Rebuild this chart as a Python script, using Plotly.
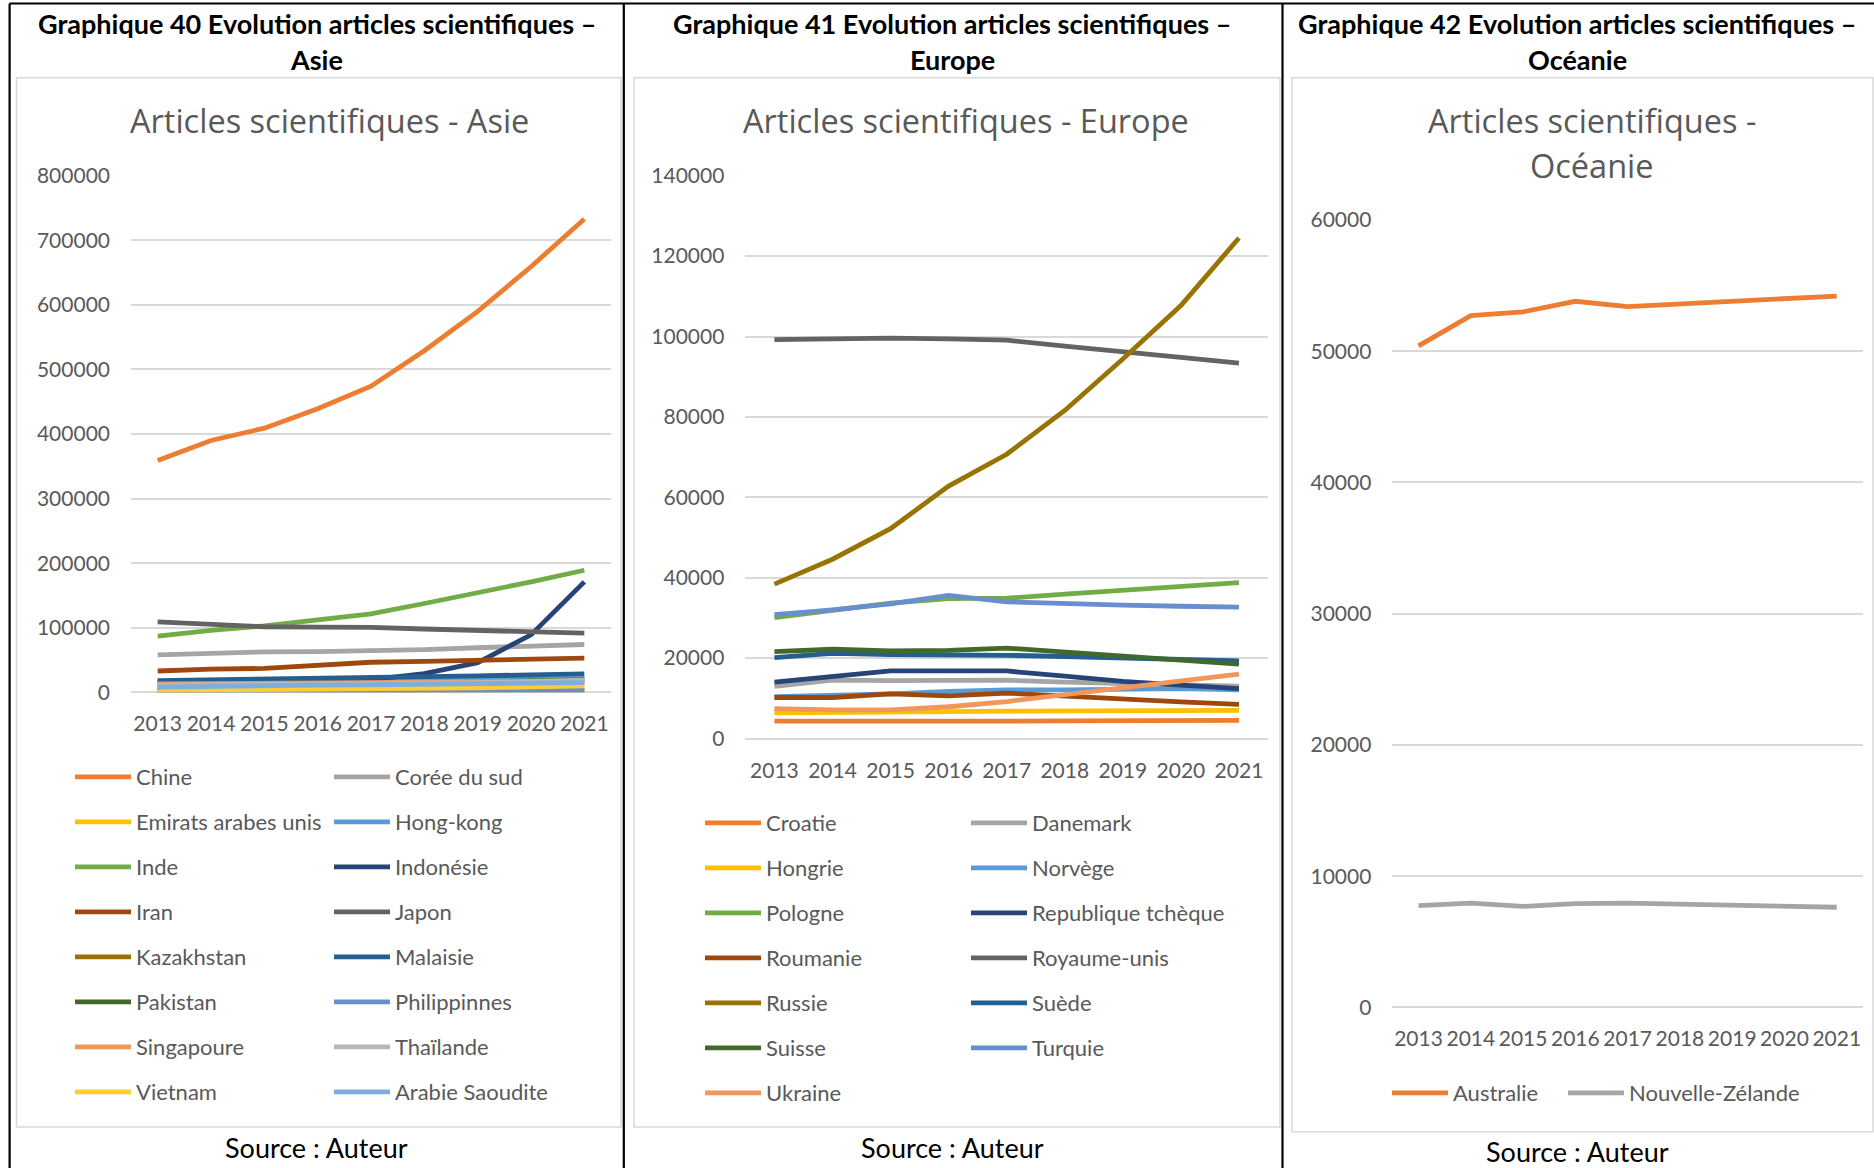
import plotly.graph_objects as go

W, H = 1874, 1168

years = ["2013", "2014", "2015", "2016", "2017", "2018", "2019", "2020", "2021"]

# ---- Asie ----
asie_pays = ["Chine", "Corée du sud", "Emirats arabes unis", "Hong-kong", "Inde",
             "Indonésie", "Iran", "Japon", "Kazakhstan", "Malaisie", "Pakistan",
             "Philippinnes", "Singapoure", "Thaïlande", "Vietnam", "Arabie Saoudite"]
chine = [359000, 390000, 409000, 439000, 474000, 529000, 590000, 659000, 733000]
coree_du_sud = [58000, 60500, 62500, 63000, 64000, 66000, 69000, 72000, 74000]
emirats = [3000, 3500, 4000, 4500, 5000, 5500, 6500, 7500, 8500]
hong_kong = [17000, 17500, 18000, 18500, 19000, 19500, 20000, 20500, 21000]
inde = [87000, 96000, 103000, 113000, 121500, 137500, 154000, 171000, 189000]
indonesie = [15000, 16500, 17500, 18500, 19500, 29000, 46000, 89000, 171000]
iran = [33000, 36000, 37000, 42500, 46500, 48000, 49500, 51000, 53000]
japon = [109000, 105000, 101500, 101000, 100500, 98000, 95500, 94000, 91500]
kazakhstan = [1000, 1200, 1500, 1700, 1800, 2000, 2200, 2500, 2700]
malaisie = [18000, 19000, 20000, 21500, 22500, 24000, 25500, 27000, 28500]
pakistan = [8000, 9000, 10000, 11000, 12000, 13500, 15000, 17500, 19500]
philippines = [1000, 1100, 1200, 1400, 1600, 1900, 2300, 2800, 3200]
singapour = [13000, 13500, 14000, 14500, 14500, 15000, 15500, 16500, 17000]
thailande = [11000, 11500, 12000, 12500, 13000, 14000, 15000, 17000, 19000]
vietnam = [3000, 3500, 4000, 4500, 5000, 6000, 7000, 8500, 10000]
arabie_saoudite = [8000, 9500, 10500, 11000, 11500, 12000, 13000, 14000, 15000]
asie_valeurs = [chine, coree_du_sud, emirats, hong_kong, inde, indonesie, iran, japon,
                kazakhstan, malaisie, pakistan, philippines, singapour, thailande,
                vietnam, arabie_saoudite]

# ---- Europe ----
europe_pays = ["Croatie", "Danemark", "Hongrie", "Norvège", "Pologne",
               "Republique tchèque", "Roumanie", "Royaume-unis", "Russie", "Suède",
               "Suisse", "Turquie", "Ukraine"]
croatie = [4300, 4300, 4200, 4100, 4300, 4400, 4400, 4500, 4500]
danemark = [13000, 14500, 14400, 14400, 14500, 14000, 13600, 13300, 13000]
hongrie = [6400, 6600, 6600, 6700, 6800, 6800, 6900, 6900, 7000]
norvege = [10400, 10700, 11100, 11700, 12100, 12100, 12300, 12400, 12100]
pologne = [30100, 32000, 33700, 34800, 34900, 35900, 36800, 37900, 38800]
rep_tcheque = [14000, 15500, 16800, 16800, 16800, 15500, 14200, 13300, 12400]
roumanie = [10200, 10200, 11100, 10600, 11300, 10500, 9800, 9100, 8500]
royaume_unis = [99200, 99300, 99600, 99400, 99100, 97600, 96300, 94800, 93400]
russie = [38400, 44600, 52200, 62800, 70700, 81600, 94400, 107700, 124500]
suede = [20100, 21200, 20900, 20900, 20700, 20400, 20100, 19700, 19300]
suisse = [21600, 22200, 21800, 21900, 22500, 21400, 20400, 19500, 18500]
turquie = [30800, 32000, 33500, 35600, 34000, 33500, 33200, 32900, 32700]
ukraine = [7400, 7100, 7100, 7900, 9200, 10900, 12500, 14200, 16000]
europe_valeurs = [croatie, danemark, hongrie, norvege, pologne, rep_tcheque, roumanie,
                  royaume_unis, russie, suede, suisse, turquie, ukraine]

# ---- Océanie ----
oceanie_pays = ["Australie", "Nouvelle-Zélande"]
australie = [50400, 52700, 53000, 53800, 53400, 53600, 53800, 54000, 54200]
nouvelle_zelande = [7750, 7950, 7700, 7900, 7950, 7870, 7800, 7700, 7630]
oceanie_valeurs = [australie, nouvelle_zelande]

# Office palette, cycled in series order
palette = ["#ED7D31", "#A5A5A5", "#FFC000", "#5B9BD5", "#70AD47", "#264478",
           "#9E480E", "#636363", "#997300", "#255E91", "#43682B", "#698ED0",
           "#F1975A", "#B7B7B7", "#FFCD33", "#7CAFDD"]

FONT = "Lato"
TITLE_FONT = "Open Sans"
GREY = "#595959"
GRID = "#D9D9D9"


def fx(x):
    return x / W


def fy(y):
    return 1 - y / H


fig = go.Figure()


def add_panel(names, values, xa, ya, legends):
    for i, (name, vals) in enumerate(zip(names, values)):
        fig.add_trace(go.Scatter(
            x=years, y=vals, name=name, mode="lines",
            line=dict(color=palette[i % len(palette)], width=4.8),
            xaxis=xa, yaxis=ya, legend=legends[i % len(legends)],
            legendgroup=name, hoverinfo="x+y+name",
        ))


add_panel(asie_pays, asie_valeurs, "x", "y", ["legend", "legend2"])
add_panel(europe_pays, europe_valeurs, "x2", "y2", ["legend3", "legend4"])
add_panel(oceanie_pays, oceanie_valeurs, "x3", "y3", ["legend5", "legend6"])

tickfont = dict(family=FONT, size=21, color=GREY)


def xaxis_cfg(x0, x1, anchor):
    return dict(domain=[fx(x0), fx(x1)], anchor=anchor, type="category",
                range=[-0.5, 8.5], showgrid=False, zeroline=False, showline=False,
                ticks="", tickfont=tickfont, ticklabelstandoff=17, fixedrange=True)


def yaxis_cfg(ytop, ybot, top, step, anchor):
    return dict(domain=[fy(ybot), fy(ytop)], anchor=anchor, range=[0, top],
                dtick=step, tickformat="d", showgrid=True, gridcolor=GRID,
                gridwidth=1.5, zeroline=True, zerolinecolor=GRID, zerolinewidth=1.5,
                showline=False, ticks="", tickfont=tickfont, ticklabelstandoff=20,
                fixedrange=True)


legend_common = dict(orientation="v", xanchor="left", yanchor="top",
                     bgcolor="rgba(0,0,0,0)", font=dict(family=FONT, size=22, color=GREY),
                     tracegroupgap=13.4, itemwidth=56, itemclick=False,
                     itemdoubleclick=False)

fig.update_layout(
    width=W, height=H, margin=dict(l=0, r=0, t=0, b=0, autoexpand=False),
    paper_bgcolor="white", plot_bgcolor="white",
    font=dict(family=FONT, color=GREY),
    xaxis=xaxis_cfg(131, 611, "y"),
    yaxis=yaxis_cfg(175.7, 692.3, 800000, 100000, "x"),
    xaxis2=xaxis_cfg(745.4, 1268, "y2"),
    yaxis2=yaxis_cfg(175.7, 738.5, 140000, 20000, "x2"),
    xaxis3=xaxis_cfg(1392.4, 1862.9, "y3"),
    yaxis3=yaxis_cfg(219.9, 1007.4, 60000, 10000, "x3"),
    legend=dict(legend_common, x=fx(70), y=fy(756)),
    legend2=dict(legend_common, x=fx(329), y=fy(756)),
    legend3=dict(legend_common, x=fx(700), y=fy(802)),
    legend4=dict(legend_common, x=fx(966), y=fy(802)),
    legend5=dict(legend_common, x=fx(1387), y=fy(1072)),
    legend6=dict(legend_common, x=fx(1563), y=fy(1072)),
    showlegend=True,
)

# table frame and chart borders
shapes = []
for x0, x1, y1 in [(16.5, 621, 1127), (634, 1280, 1127), (1292, 1873, 1131.7)]:
    shapes.append(dict(type="rect", xref="paper", yref="paper",
                       x0=fx(x0), x1=fx(x1), y0=fy(y1), y1=fy(77.7),
                       line=dict(color=GRID, width=1.5), layer="below"))
shapes.append(dict(type="line", xref="paper", yref="paper", x0=fx(9.6), x1=1,
                   y0=fy(3.5), y1=fy(3.5), line=dict(color="black", width=2.2)))
for xv in [9.6, 623.8, 1282.5]:
    shapes.append(dict(type="line", xref="paper", yref="paper", x0=fx(xv), x1=fx(xv),
                       y0=0, y1=fy(3.5), line=dict(color="black", width=2.2)))
fig.update_layout(shapes=shapes)

annotations = []


def text(x, y, s, size, color, family=FONT, bold=False):
    annotations.append(dict(xref="paper", yref="paper", x=fx(x), y=fy(y),
                            text=f"<b>{s}</b>" if bold else s,
                            showarrow=False, xanchor="center", yanchor="middle",
                            font=dict(family=family, size=size, color=color)))


# table headers
for cx, num, region in [(316.7, 40, "Asie"), (952.4, 41, "Europe"), (1577.4, 42, "Océanie")]:
    text(cx, 24, f"Graphique {num} Evolution articles scientifiques –", 27, "black", bold=True)
    text(cx, 60, region, 27, "black", bold=True)

# chart titles
text(329, 121, "Articles scientifiques - Asie", 32.5, GREY, TITLE_FONT)
text(965.6, 121, "Articles scientifiques - Europe", 32.5, GREY, TITLE_FONT)
text(1591.7, 121, "Articles scientifiques -", 32.5, GREY, TITLE_FONT)
text(1591.7, 166, "Océanie", 32.5, GREY, TITLE_FONT)

# sources
text(316.7, 1147, "Source : Auteur", 27, "black")
text(952.4, 1147, "Source : Auteur", 27, "black")
text(1577.4, 1151, "Source : Auteur", 27, "black")

fig.update_layout(annotations=annotations)

fig.write_html("out.html")
